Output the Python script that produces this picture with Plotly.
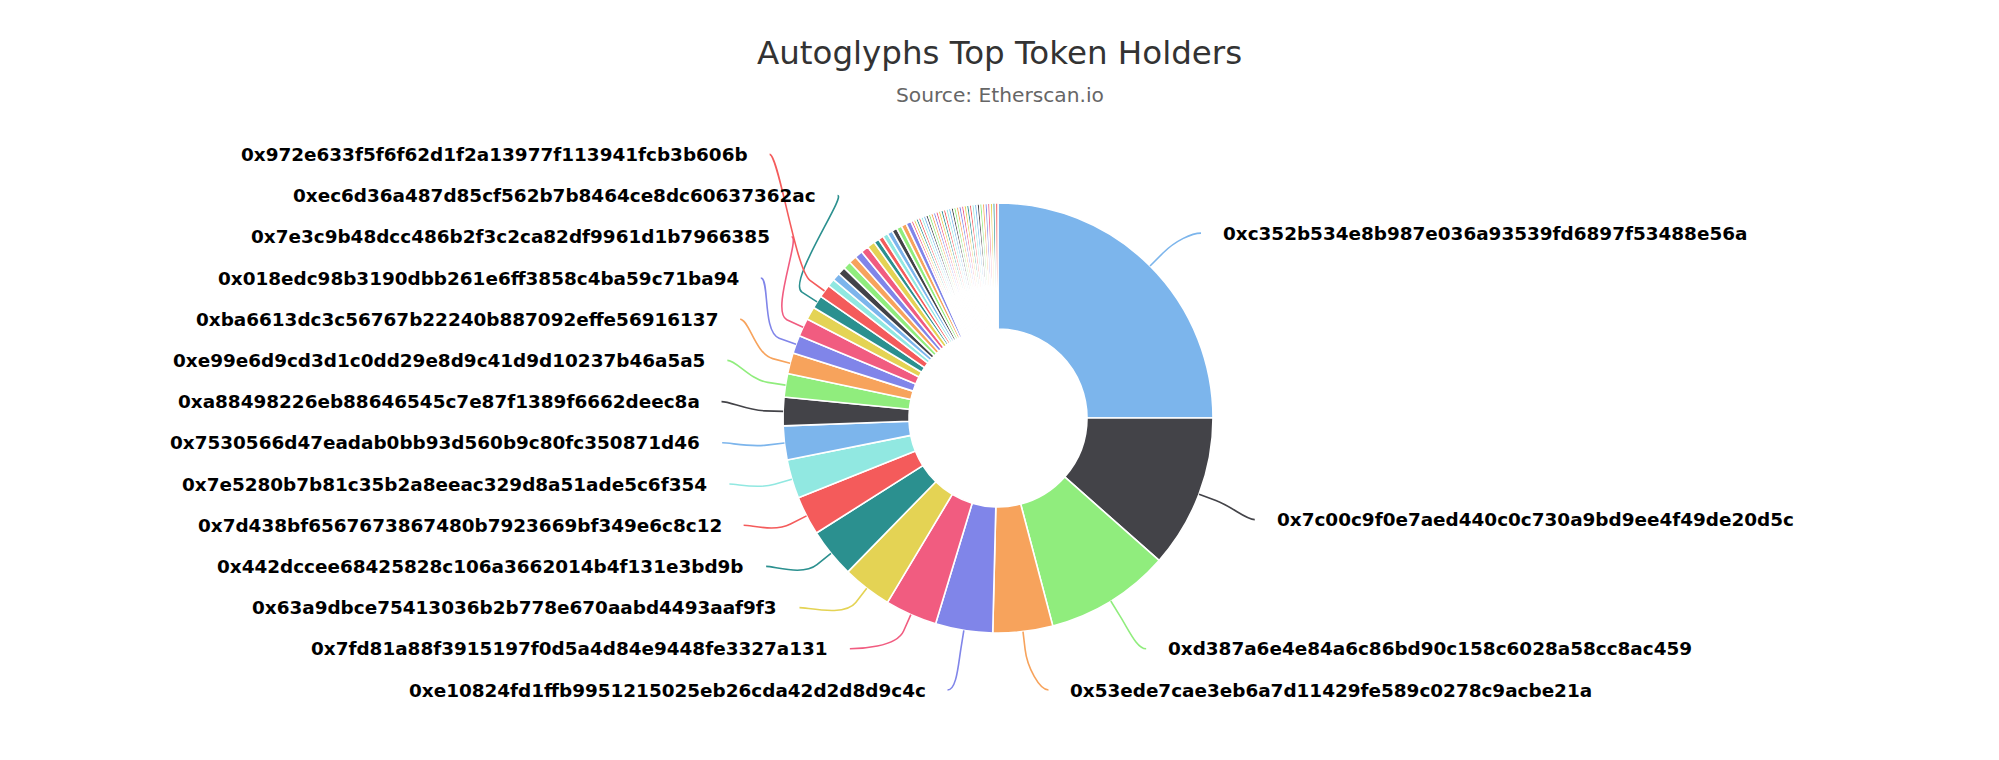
import math
import plotly.graph_objects as go

# ---------------- data ----------------
TITLE = "Autoglyphs Top Token Holders"
SUBTITLE = "Source: Etherscan.io"

# holder addresses in chart order (None = holder whose label is not shown)
addresses = [
    "0xc352b534e8b987e036a93539fd6897f53488e56a",
    "0x7c00c9f0e7aed440c0c730a9bd9ee4f49de20d5c",
    "0xd387a6e4e84a6c86bd90c158c6028a58cc8ac459",
    "0x53ede7cae3eb6a7d11429fe589c0278c9acbe21a",
    "0xe10824fd1ffb9951215025eb26cda42d2d8d9c4c",
    "0x7fd81a88f3915197f0d5a4d84e9448fe3327a131",
    "0x63a9dbce75413036b2b778e670aabd4493aaf9f3",
    "0x442dccee68425828c106a3662014b4f131e3bd9b",
    "0x7d438bf6567673867480b7923669bf349e6c8c12",
    "0x7e5280b7b81c35b2a8eeac329d8a51ade5c6f354",
    "0x7530566d47eadab0bb93d560b9c80fc350871d46",
    "0xa88498226eb88646545c7e87f1389f6662deec8a",
    "0xe99e6d9cd3d1c0dd29e8d9c41d9d10237b46a5a5",
    "0xba6613dc3c56767b22240b887092effe56916137",
    "0x018edc98b3190dbb261e6ff3858c4ba59c71ba94",
    "0x7e3c9b48dcc486b2f3c2ca82df9961d1b7966385",
    None,
    "0xec6d36a487d85cf562b7b8464ce8dc60637362ac",
    "0x972e633f5f6f62d1f2a13977f113941fcb3b606b",
]
top_values = [128, 59, 48, 23, 22, 20, 19, 19, 15, 15, 13, 11, 9, 8, 7, 7, 5, 5, 5]
tail_values = [3, 3, 3, 3, 3, 3, 3, 3,
               2, 2, 2, 2, 2, 2, 2, 2,
               1, 1, 1, 1, 1, 1, 1, 1, 1, 1, 1, 1, 1, 1, 1, 1, 1,
               1, 1, 1, 1, 1, 1, 1, 1, 1, 1, 1, 1, 1, 1, 1, 1, 1]
palette = ["#7cb5ec", "#434348", "#90ed7d", "#f7a35c", "#8085e9",
           "#f15c80", "#e4d354", "#2b908f", "#f45b5b", "#91e8e1"]

# ---------------- layout constants ----------------
W, H = 1999, 760
CX, CY, R = 998, 418, 215
HOLE = 0.414
LN = 270          # radius used for natural label heights
NAT_DY = 6        # baseline offset of natural label heights
LB = 280          # vertical reach of label ring
A_TEXT = 297      # horizontal reach of label text edge
GAP = 20          # gap text edge -> connector start
SPACING = 41.2
Y_TOP, Y_BOT = CY - 264, CY + 272
BREAK = 18
FONT = "DejaVu Sans"

values = top_values + tail_values
n = len(values)
colors = [palette[i % len(palette)] for i in range(n)]
hover = [(addresses[i] if i < len(addresses) and addresses[i] else "holder #%d" % (i + 1))
         for i in range(n)]

total = float(sum(values))
mids, cum = [], 0.0
for v in values:
    mids.append((cum + v / 2.0) / total * 360.0)
    cum += v


def X(px):
    return px / W


def Y(py):
    return 1 - py / H


def distribute(nat, S, lo, hi):
    order = sorted(range(len(nat)), key=lambda k: nat[k])
    ys = [nat[k] for k in order]
    groups = []

    def place(g):
        s, c = g
        t = sum(ys[s + j] - j * S for j in range(c)) / c
        return max(lo, min(t, hi - (c - 1) * S))

    for i in range(len(ys)):
        groups.append([i, 1])
        while len(groups) > 1:
            a, b = groups[-2], groups[-1]
            if place(a) + a[1] * S > place(b) + 1e-9:
                groups[-2:] = [[a[0], a[1] + b[1]]]
            else:
                break
    out = [0.0] * len(nat)
    for g in groups:
        t = place(g)
        for j in range(g[1]):
            out[order[g[0] + j]] = t + j * S
    return out


def edge_dx(y):
    q = (y - CY) / LB
    return A_TEXT * math.sqrt(max(0.0, 1 - q * q))


labeled = [i for i, a in enumerate(addresses) if a]
annotations, shapes = [], []
for side in ("right", "left"):
    idx = [i for i in labeled if (mids[i] < 180) == (side == "right")]
    nat = [CY + NAT_DY - LN * math.cos(math.radians(mids[i])) for i in idx]
    ys = distribute(nat, SPACING, Y_TOP, Y_BOT)
    for i, y, ny in zip(idx, ys, nat):
        yx = ny if y <= Y_TOP + 1 else y
        dx = edge_dx(yx)
        th = math.radians(mids[i])
        tx, ty = CX + R * math.sin(th), CY - R * math.cos(th)
        bx, by = CX + (R + BREAK) * math.sin(th), CY - (R + BREAK) * math.cos(th)
        if side == "right":
            text_x = CX + dx
            lx = text_x - GAP
            s = -1
            anchor = "left"
        else:
            text_x = CX - dx
            lx = text_x + GAP
            s = 1
            anchor = "right"
        annotations.append(dict(
            x=X(text_x), y=Y(y), xref="paper", yref="paper",
            text=addresses[i], showarrow=False, xanchor=anchor, yanchor="middle",
            font=dict(family=FONT, size=18.4, color="#000000", weight="bold")))
        path = "M {:.5f},{:.5f} C {:.5f},{:.5f} {:.5f},{:.5f} {:.5f},{:.5f} L {:.5f},{:.5f}".format(
            X(lx), Y(y), X(lx + s * 9), Y(y),
            X(2 * bx - tx), Y(2 * by - ty), X(bx), Y(by), X(tx), Y(ty))
        shapes.append(dict(type="path", path=path, xref="paper", yref="paper",
                           line=dict(color=colors[i], width=1.6), layer="above"))

annotations.append(dict(x=0.5, y=Y(52.8), xref="paper", yref="paper", text=TITLE,
                        showarrow=False, xanchor="center", yanchor="middle",
                        font=dict(family=FONT, size=32.5, color="#333333")))
annotations.append(dict(x=0.5, y=Y(94.7), xref="paper", yref="paper", text=SUBTITLE,
                        showarrow=False, xanchor="center", yanchor="middle",
                        font=dict(family=FONT, size=20.2, color="#666666")))

fig = go.Figure(go.Pie(
    values=values,
    hovertext=hover,
    hoverinfo="text+value+percent",
    sort=False,
    direction="clockwise",
    rotation=0,
    hole=HOLE,
    textinfo="none",
    marker=dict(colors=colors, line=dict(color="#ffffff", width=1.6)),
    domain=dict(x=[(CX - R) / W, (CX + R) / W], y=[1 - (CY + R) / H, 1 - (CY - R) / H]),
    showlegend=False,
))
fig.update_layout(
    width=W, height=H, autosize=False,
    margin=dict(l=0, r=0, t=0, b=0, pad=0),
    paper_bgcolor="#ffffff", plot_bgcolor="#ffffff",
    annotations=annotations, shapes=shapes,
)
fig.write_html("out.html", config={"displayModeBar": False},
               post_script="document.body.style.margin='0';document.body.style.padding='0';")
